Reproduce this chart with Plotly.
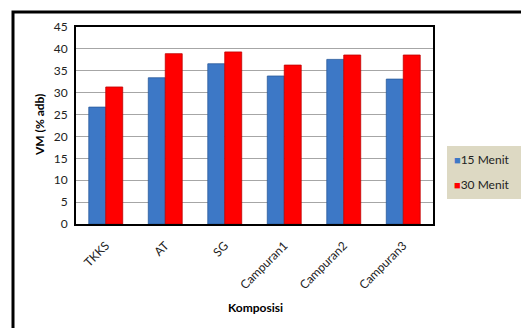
import plotly.graph_objects as go

categories = ["TKKS", "AT", "SG", "Campuran1", "Campuran2", "Campuran3"]
vm_15 = [26.7, 33.4, 36.6, 33.8, 37.6, 33.1]
vm_30 = [31.3, 38.9, 39.3, 36.3, 38.6, 38.6]
series_names = ["15 Menit", "30 Menit"]
series_colors = ["#3d78c6", "#ff0000"]
y_ticks = [0, 5, 10, 15, 20, 25, 30, 35, 40, 45]

FONT = "Lato, 'Open Sans', sans-serif"

fig = go.Figure()
fig.add_trace(go.Bar(
    x=categories, y=vm_15, name=series_names[0],
    marker=dict(color=series_colors[0], line=dict(color="#2a5a9a", width=0.8)),
))
fig.add_trace(go.Bar(
    x=categories, y=vm_30, name=series_names[1],
    marker=dict(color=series_colors[1], line=dict(color="#c00000", width=0.8)),
))

L, R, T, B = 76, 433, 27, 224
W, H = 521, 328
pw, ph = R - L, B - T

def px_x(v):
    return (v - L) / pw

def px_y(v):
    return (B - v) / ph

# compact legend box drawn beside the plot area
legend_items = []
for i, (name, col) in enumerate(zip(series_names, series_colors)):
    legend_items.append(dict(
        xref="paper", yref="paper", x=px_x(452), y=px_y(159 + 25 * i),
        xanchor="left", yanchor="middle", showarrow=False,
        text=f"<span style='color:{col}; font-size:11px'>■</span>{name}",
        font=dict(family=FONT, size=12, color="#222"),
    ))

fig.update_layout(
    width=W, height=H,
    margin=dict(l=L, r=W - R, t=T, b=H - B),
    paper_bgcolor="white", plot_bgcolor="white",
    barmode="group", bargap=0.43, bargroupgap=0,
    font=dict(family=FONT, size=12, color="#222"),
    showlegend=False,
    xaxis=dict(
        tickangle=-45, showline=True, linecolor="black", linewidth=2, mirror=True,
        ticks="outside", ticklen=8, tickcolor="rgba(0,0,0,0)",
        tickfont=dict(size=12, color="#222"),
    ),
    yaxis=dict(
        range=[0, 45], tickvals=y_ticks, showgrid=True, gridcolor="#a6a6a6", gridwidth=1,
        showline=True, linecolor="black", linewidth=2, mirror=True,
        ticks="outside", ticklen=4, tickcolor="rgba(0,0,0,0)",
        tickfont=dict(size=12, color="#222"),
        zeroline=False,
    ),
    shapes=[
        dict(
            type="rect", xref="paper", yref="paper",
            x0=px_x(13), x1=px_x(540), y0=px_y(340), y1=px_y(12),
            line=dict(color="black", width=3), fillcolor="rgba(0,0,0,0)", layer="below",
        ),
        dict(
            type="rect", xref="paper", yref="paper",
            x0=px_x(447), x1=px_x(530), y0=px_y(199), y1=px_y(146),
            line=dict(width=0), fillcolor="#ddd9c3", layer="below",
        ),
    ],
    annotations=legend_items + [
        dict(
            xref="paper", yref="paper", x=px_x(255), y=px_y(307),
            xanchor="center", yanchor="middle", showarrow=False,
            text="<b>Komposisi</b>", font=dict(family=FONT, size=12, color="#000"),
        ),
        dict(
            xref="paper", yref="paper", x=px_x(39), y=px_y(125),
            xanchor="center", yanchor="middle", showarrow=False, textangle=-90,
            text="<b>VM (% adb)</b>", font=dict(family=FONT, size=12, color="#000"),
        ),
    ],
)

fig.write_html("out.html")
